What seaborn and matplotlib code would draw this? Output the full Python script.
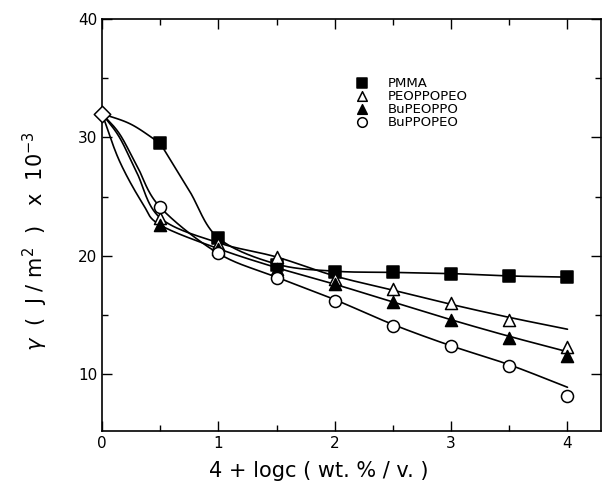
import numpy as np
import pandas as pd
import matplotlib
matplotlib.use("Agg")
import matplotlib.pyplot as plt
import seaborn as sns

# measured points
x_pts = [0.5, 1.0, 1.5, 2.0, 2.5, 3.0, 3.5, 4.0]
pmma = [29.5, 21.5, 19.2, 18.6, 18.6, 18.5, 18.3, 18.2]
peoppopeo = [23.2, 21.0, 19.9, 18.0, 17.2, 16.0, 14.6, 12.3]
bupeoppo = [22.6, 20.6, 18.9, 17.6, 16.1, 14.6, 13.1, 11.5]
buppopeo = [24.1, 20.2, 18.1, 16.2, 14.1, 12.4, 10.7, 8.2]
x_start, y_start = 0.0, 32.0  # pure water point (diamond)

# drawn curves (knots); PMMA has a kink at 0.5
pmma_arc_cx = [0.0, 0.25, 0.5]
pmma_arc_cy = [32.0, 31.1, 29.5]
pmma_cx = [0.5, 0.75, 1.0, 1.5, 2.0, 2.5, 3.0, 3.5, 4.0]
pmma_cy = [29.5, 25.5, 21.5, 19.3, 18.7, 18.6, 18.5, 18.3, 18.2]
peo_cx = [0.0, 0.15, 0.3, 0.5, 1.0, 1.5, 2.0, 2.5, 3.0, 3.5, 4.0]
peo_cy = [32.0, 30.0, 27.0, 23.2, 21.1, 19.9, 18.3, 17.1, 15.9, 14.8, 13.8]
bupeo_cx = [0.0, 0.15, 0.35, 0.5, 1.0, 1.5, 2.0, 2.5, 3.0, 3.5, 4.0]
bupeo_cy = [32.0, 28.0, 24.4, 22.6, 20.6, 19.0, 17.6, 16.1, 14.6, 13.2, 11.9]
buppo_cx = [0.0, 0.15, 0.3, 0.5, 1.0, 1.5, 2.0, 2.5, 3.0, 3.5, 4.0]
buppo_cy = [32.0, 30.3, 27.6, 24.1, 20.2, 18.2, 16.3, 14.2, 12.4, 10.8, 8.9]

names = ["PMMA", "PEOPPOPEO", "BuPEOPPO", "BuPPOPEO"]


def smooth(xs, ys, n=30):
    # catmull-rom spline, only for drawing the curve through the knots
    xs = np.asarray(xs, float)
    ys = np.asarray(ys, float)
    px = np.concatenate([[2 * xs[0] - xs[1]], xs, [2 * xs[-1] - xs[-2]]])
    py = np.concatenate([[2 * ys[0] - ys[1]], ys, [2 * ys[-1] - ys[-2]]])
    ox, oy = [], []
    t = np.linspace(0, 1, n, endpoint=False)
    for i in range(1, len(px) - 2):
        for p, out in ((px, ox), (py, oy)):
            p0, p1, p2, p3 = p[i - 1], p[i], p[i + 1], p[i + 2]
            out.extend(0.5 * (2 * p1 + (-p0 + p2) * t
                              + (2 * p0 - 5 * p1 + 4 * p2 - p3) * t ** 2
                              + (-p0 + 3 * p1 - 3 * p2 + p3) * t ** 3))
    ox.append(xs[-1])
    oy.append(ys[-1])
    return np.array(ox), np.array(oy)


sns.set_style("ticks")
plt.rcParams["font.family"] = ["DejaVu Sans"]
plt.rcParams.update({"text.color": "black", "axes.labelcolor": "black",
                     "xtick.color": "black", "ytick.color": "black",
                     "axes.edgecolor": "black"})

fig = plt.figure(figsize=(6.11, 4.86), dpi=100)
ax = fig.add_axes([0.167, 0.113, 0.817, 0.848])

for cx, cy in [(pmma_arc_cx, pmma_arc_cy), (pmma_cx, pmma_cy), (peo_cx, peo_cy),
               (bupeo_cx, bupeo_cy), (buppo_cx, buppo_cy)]:
    sx, sy = smooth(cx, cy)
    sns.lineplot(x=sx, y=sy, color="black", lw=1.2, ax=ax, sort=False)

styles = [("s", "black"), ("^", "white"), ("^", "black"), ("o", "white")]
for name, vals, (m, fc) in zip(names, [pmma, peoppopeo, bupeoppo, buppopeo], styles):
    sns.scatterplot(x=x_pts, y=vals, marker=m, s=75, color=fc,
                    edgecolor="black", linewidth=1.1, ax=ax, label=name, zorder=5)

sns.scatterplot(x=[x_start], y=[y_start], marker="D", s=70, color="white",
                edgecolor="black", linewidth=1.1, ax=ax, zorder=6, clip_on=False)

ax.set_xlim(0, 4.29)
ax.set_ylim(5.2, 40)
ax.set_xticks([0, 1, 2, 3, 4])
ax.set_xticks([0.5, 1.5, 2.5, 3.5], minor=True)
ax.set_yticks([10, 20, 30, 40])
ax.set_yticks([15, 25, 35], minor=True)
ax.tick_params(which="both", direction="in", top=True, right=True, width=1,
               colors="black")
ax.tick_params(which="major", length=7, labelsize=11)
ax.tick_params(which="minor", length=4)
for s in ax.spines.values():
    s.set_linewidth(1.2)
    s.set_color("black")

ax.set_xlabel("4 + logc ( wt. % / v. )", fontsize=15, color="black")
ax.xaxis.set_label_coords(0.435, -0.072)
ax.set_ylabel(r"$\gamma$  (  J / m$^2$  )   x  10$^{-3}$", fontsize=15, color="black")
ax.yaxis.set_label_coords(-0.105, 0.462)

leg = ax.legend(loc="upper left", bbox_to_anchor=(0.495, 0.86), frameon=False,
                fontsize=9.5, handletextpad=0.9, labelspacing=0.0,
                borderaxespad=0, borderpad=0, markerscale=0.8)
for t in leg.get_texts():
    t.set_color("black")

fig.savefig("out.png", dpi=100)
